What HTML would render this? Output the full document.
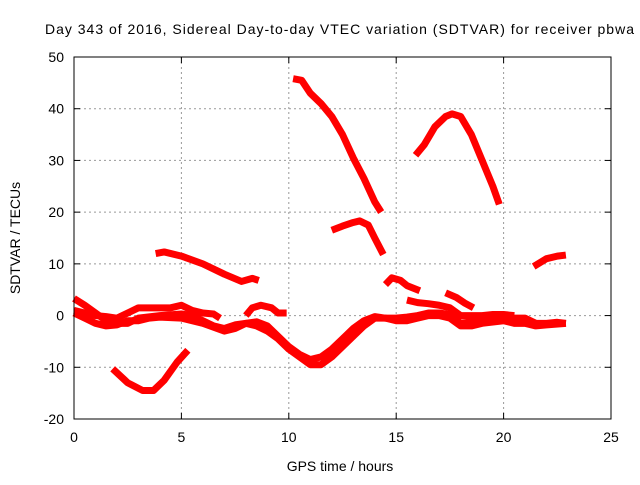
<!DOCTYPE html>
<html><head><meta charset="utf-8"><style>
body{margin:0;background:#fff;}
svg text{font-family:"Liberation Sans",sans-serif;font-size:14px;fill:#000;}
</style></head><body>
<svg id="chart" width="640" height="480">
<text x="45" y="34" textLength="589" lengthAdjust="spacing">Day 343 of 2016, Sidereal Day-to-day VTEC variation (SDTVAR) for receiver pbwa</text>
<text x="340" y="471" text-anchor="middle">GPS time / hours</text>
<text transform="translate(20,238) rotate(-90)" text-anchor="middle">SDTVAR / TECUs</text>
<g id="grid"></g><g id="ticks"></g><g id="series"></g>
<rect x="74" y="57" width="537" height="362" fill="none" stroke="#000" stroke-width="1"/>
</svg>
<script>
const xTicks=[0,5,10,15,20,25];
const yTicks=[-20,-10,0,10,20,30,40,50];
const arcHigh=[[10.2,45.8],[10.6,45.5],[11,43],[11.5,41],[12,38.5],[12.5,35],[13,30.5],[13.5,26.5],[14,22],[14.3,20]];
const arcAfternoon=[[15.9,31],[16.3,33],[16.8,36.5],[17.3,38.5],[17.6,39],[18,38.5],[18.5,35],[19,30],[19.5,25],[19.8,21.5]];
const arcMid=[[12,16.5],[12.5,17.3],[13,18],[13.3,18.3],[13.7,17.5],[14,15],[14.4,11.8]];
const arcMorning=[[3.8,12],[4.2,12.3],[5,11.5],[6,10],[7,8],[7.8,6.6],[8.3,7.2],[8.6,6.8]];
const arcSmall=[[14.5,6],[14.8,7.3],[15.2,6.8],[15.5,5.8],[16.1,4.8]];
const arcLate=[[21.4,9.5],[22,11],[22.5,11.5],[22.9,11.7]];
const arcLow=[[1.8,-10.3],[2.5,-13],[3.2,-14.5],[3.7,-14.5],[4.2,-12.5],[4.8,-9],[5.3,-6.7]];
const arcShort=[[17.3,4.4],[17.8,3.5],[18.2,2.4],[18.6,1.5]];
const arcBump=[[8,0],[8.3,1.5],[8.7,2],[9.2,1.5],[9.5,0.5],[9.9,0.5]];
const bandA=[[0,3.3],[0.5,2],[1,0.5],[1.5,-1],[2,-1.5],[2.5,-1.5],[3,-0.5],[4,0],[5,0.3],[5.5,0],[6,-1],[6.5,-2],[7,-2.5],[7.5,-1.8],[8,-1.5],[8.5,-1.2],[9,-2],[9.5,-4],[10,-6],[10.5,-7.5],[11,-8.5],[11.5,-8],[12,-6.5],[12.5,-4.5],[13,-2.5],[13.5,-1],[14,-0.2],[14.5,-0.5],[15,-0.5],[15.5,-0.3],[16,0],[16.5,0.5],[17,0.5],[17.5,0.2],[18,-1.5],[18.5,-1.2],[19,-1],[19.5,-0.8],[20,-0.8],[20.5,-0.5],[21,-0.5],[21.5,-1.5],[22,-1.5],[22.5,-1.3],[22.9,-1.5]];
const bandB=[[0,0.5],[0.5,-0.5],[1,-1.5],[1.5,-2],[2,-1.8],[2.5,-1],[3,-1],[3.5,-0.5],[4,-0.3],[5,-0.5],[5.5,-1],[6,-1.5],[7,-3],[7.5,-2.5],[8,-1.5],[8.5,-2],[9,-3],[9.5,-4.5],[10,-6.5],[10.5,-8],[11,-9.5],[11.5,-9.5],[12,-8],[12.5,-6],[13,-4],[13.5,-2],[14,-0.5],[14.5,-0.5],[15,-1],[15.5,-1],[16,-0.5],[16.5,0],[17,0],[17.5,-0.5],[18,-2],[18.5,-2],[19,-1.5],[20,-1],[20.5,-1.5],[21,-1.5],[21.5,-2],[22,-1.8],[22.9,-1.5]];
const bandC=[[0,1],[0.5,0.5],[1,0],[1.5,-0.2],[2,-0.5],[2.5,0.5],[3,1.5],[3.5,1.5],[4,1.5],[4.5,1.5],[5,2],[5.5,1],[6,0.5],[6.5,0.3],[6.8,-0.5]];
const bandD=[[15.5,3],[16,2.5],[16.5,2.3],[17,2],[17.5,1.5],[18,0],[18.5,0],[19,0],[19.5,0.2],[20,0.2],[20.5,0]];
const allSeries=[arcHigh,arcAfternoon,arcMid,arcMorning,arcSmall,arcLate,arcLow,arcShort,arcBump,bandA,bandB,bandC,bandD];
const X=v=>74+v*(537/25);
const Y=v=>419-(v+20)*(362/70);
const NS="http://www.w3.org/2000/svg";
const grid=document.getElementById('grid'),ticks=document.getElementById('ticks'),ser=document.getElementById('series');
function mk(tag,attrs,parent){const e=document.createElementNS(NS,tag);for(const k in attrs)e.setAttribute(k,attrs[k]);parent.appendChild(e);return e;}
xTicks.forEach(t=>{
  if(t>0&&t<25){const g=mk('line',{x1:X(t),x2:X(t),y1:57,y2:419,stroke:'#999','stroke-dasharray':'2,3'},grid);
  
  }
  mk('line',{x1:X(t),x2:X(t),y1:419,y2:413,stroke:'#000'},ticks);
  mk('line',{x1:X(t),x2:X(t),y1:57,y2:63,stroke:'#000'},ticks);
  const l=mk('text',{x:X(t),y:442,'text-anchor':'middle'},ticks);l.textContent=t;
  
  
});
yTicks.forEach(t=>{
  if(t>-20&&t<50){const g=mk('line',{x1:74,x2:611,y1:Y(t),y2:Y(t),stroke:'#999','stroke-dasharray':'2,3'},grid);
  
  }
  mk('line',{x1:74,x2:80,y1:Y(t),y2:Y(t),stroke:'#000'},ticks);
  mk('line',{x1:611,x2:605,y1:Y(t),y2:Y(t),stroke:'#000'},ticks);
  const l=mk('text',{x:64,y:Y(t)+5,'text-anchor':'end'},ticks);l.textContent=t;
  
  
});
allSeries.forEach(s=>{
  const p=mk('polyline',{points:s.map(d=>X(d[0])+','+Y(d[1])).join(' '),fill:'none',stroke:'#f00','stroke-width':7,'stroke-linejoin':'round','stroke-linecap':'butt'},ser);
  
  
});
</script>
</body></html>
